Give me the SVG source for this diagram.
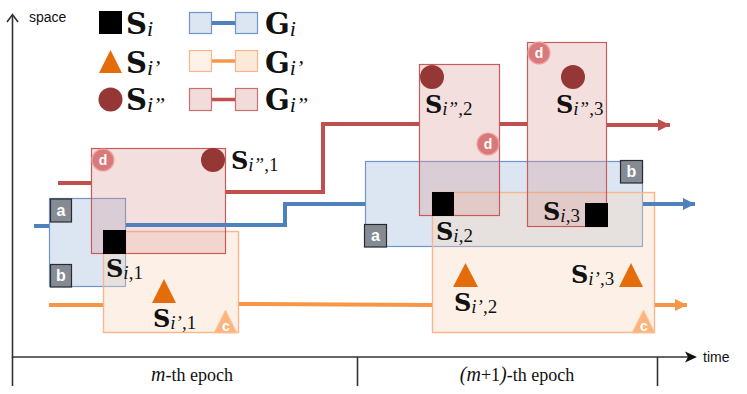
<svg xmlns="http://www.w3.org/2000/svg" width="747" height="394" viewBox="0 0 747 394">
<defs>
<style>
.ax{stroke:#333;stroke-width:1.6;fill:none}
.lab{font-family:"Liberation Sans","Open Sans",sans-serif;font-size:14px;fill:#111}
.ep{font-family:"Liberation Serif",serif;font-size:18px;fill:#111}
.ep .it{font-style:italic;font-size:20px}
.S{font-family:"DejaVu Serif","Liberation Serif",serif;font-weight:bold;font-size:24px;fill:#111}
.SL{font-family:"DejaVu Serif","Liberation Serif",serif;font-weight:bold;font-size:29px;fill:#111}
.sub{font-family:"Liberation Serif",serif;font-weight:normal;font-style:italic;font-size:19px}
.subL{font-family:"Liberation Serif",serif;font-weight:normal;font-style:italic;font-size:22px}
.num{font-weight:normal;font-style:normal}
.bbox{fill:#dce6f2;stroke:#6f96cc;stroke-width:1.2}
.obox{fill:#f9d6b9;fill-opacity:0.35;stroke:#fab68a;stroke-width:1.4}
.rbox{fill:#d99694;fill-opacity:0.3;stroke:#c65d5b;stroke-width:1.2}
.bl{stroke:#4f81bd;stroke-width:4;fill:none}
.ol{stroke:#f79646;stroke-width:4;fill:none}
.rl{stroke:#c0504d;stroke-width:4;fill:none}
.sq{fill:#000}
.tri{fill:#e46c0a}
.cir{fill:#953735}
.gb{fill:#858b94;stroke:#2b2b2b;stroke-width:1.2}
.gbt{font-family:"Liberation Sans","Open Sans",sans-serif;font-weight:bold;font-size:16px;fill:#fff;text-anchor:middle}
.db{fill:#d9797a;stroke:#eaa5a4;stroke-width:1.2}
.cb{fill:#fab47c;stroke:#fcc8a0;stroke-width:1}
.bt{font-family:"Liberation Sans","Open Sans",sans-serif;font-weight:bold;font-size:14px;fill:#fff;text-anchor:middle}
.lb1{fill:#dce6f2;stroke:#6f96cc;stroke-width:1.2}
.lo1{fill:#fdf1e8;stroke:#fab68a;stroke-width:1.2}
.lo2{fill:#fde9d9;stroke:#fab68a;stroke-width:1.2}
.lr1{fill:#f2dcdb;stroke:#c97170;stroke-width:1.2}
</style>
<marker id="ab" markerUnits="userSpaceOnUse" markerWidth="13" markerHeight="13" refX="12" refY="6.5" orient="auto"><path d="M0,0.5 L12,6.5 L0,12.5 z" fill="#4f81bd"/></marker>
<marker id="ao" markerUnits="userSpaceOnUse" markerWidth="13" markerHeight="13" refX="12" refY="6.5" orient="auto"><path d="M0,0.5 L12,6.5 L0,12.5 z" fill="#f79646"/></marker>
<marker id="ar" markerUnits="userSpaceOnUse" markerWidth="13" markerHeight="13" refX="12" refY="6.5" orient="auto"><path d="M0,0.5 L12,6.5 L0,12.5 z" fill="#c0504d"/></marker>
</defs>
<rect width="747" height="394" fill="#fff"/>

<g id="axes">
<line class="ax" x1="12.5" y1="358" x2="12.5" y2="15"/>
<polyline class="ax" points="7,22 12.5,14.5 18,22" stroke-width="2"/>
<line class="ax" x1="12" y1="357" x2="692" y2="357"/>
<path d="M685,351.5 L697,357 L685,362.5 L688,357 z" fill="#111"/>
<line class="ax" x1="12.5" y1="357" x2="12.5" y2="386"/>
<line class="ax" x1="357.5" y1="357" x2="357.5" y2="386"/>
<line class="ax" x1="657.5" y1="357" x2="657.5" y2="386"/>
<text class="lab" x="29" y="22">space</text>
<text class="lab" x="703" y="362">time</text>
<text class="ep" x="192" y="381" text-anchor="middle"><tspan class="it">m</tspan>-th epoch</text>
<text class="ep" x="517" y="381" text-anchor="middle"><tspan class="it">(m</tspan>+1<tspan class="it">)</tspan>-th epoch</text>
</g>

<g id="legend">
<rect class="sq" x="99" y="11" width="23" height="23"/>
<text class="SL" x="126" y="34">S<tspan class="subL" dy="2">i</tspan></text>
<polygon class="tri" points="99,73 110.5,50 122,73"/>
<text class="SL" x="126" y="73">S<tspan class="subL" dy="2">i’</tspan></text>
<circle class="cir" cx="110.5" cy="99.5" r="12"/>
<text class="SL" x="126" y="110">S<tspan class="subL" dy="2">i”</tspan></text>
<line x1="212" y1="23" x2="235" y2="23" stroke="#4f81bd" stroke-width="4"/>
<rect class="lb1" x="189.5" y="12.5" width="22" height="21"/>
<rect class="lb1" x="235.5" y="12.5" width="22" height="21"/>
<text class="SL" x="265" y="34">G<tspan class="subL" dy="2">i</tspan></text>
<line x1="212" y1="61" x2="235" y2="61" stroke="#f79646" stroke-width="3.5"/>
<rect class="lo1" x="189.5" y="50.5" width="22" height="21"/>
<rect class="lo2" x="235.5" y="50.5" width="22" height="21"/>
<text class="SL" x="265" y="73">G<tspan class="subL" dy="2">i’</tspan></text>
<line x1="212" y1="99.5" x2="235" y2="99.5" stroke="#c0504d" stroke-width="3.5"/>
<rect class="lr1" x="189.5" y="88.5" width="22" height="22"/>
<rect class="lr1" x="235.5" y="88.5" width="22" height="22"/>
<text class="SL" x="265" y="110">G<tspan class="subL" dy="2">i”</tspan></text>
</g>

<g id="G_i_1"><rect class="bbox" x="49.5" y="198.5" width="76" height="88"/></g>
<g id="G_i_2"><rect class="bbox" x="365.5" y="161.5" width="277" height="85"/></g>
<g id="G_ip_1"><rect class="obox" x="103.5" y="231.5" width="135" height="101"/></g>
<g id="G_ip_2"><rect class="obox" x="432.5" y="192.5" width="222" height="140"/></g>
<g id="G_ipp_1"><rect class="rbox" x="91.5" y="148.5" width="134" height="105"/></g>
<g id="G_ipp_2"><rect class="rbox" x="419.5" y="64.5" width="80" height="151"/></g>
<g id="G_ipp_3"><rect class="rbox" x="527.5" y="42.5" width="79" height="184"/></g>

<g id="connectors">
<line class="bl" x1="34" y1="226" x2="49" y2="226"/>
<polyline class="bl" points="126,225 285,225 285,204 365,204"/>
<line class="bl" x1="643" y1="204" x2="695" y2="204" marker-end="url(#ab)"/>
<line class="ol" x1="49" y1="305" x2="103" y2="305"/>
<line class="ol" x1="239" y1="304" x2="432" y2="305"/>
<line class="ol" x1="655" y1="305" x2="687" y2="305" marker-end="url(#ao)"/>
<line class="rl" x1="58" y1="183" x2="91" y2="183"/>
<polyline class="rl" points="226,192 323,192 323,124 419,124"/>
<line class="rl" x1="500" y1="124" x2="527" y2="124"/>
<line class="rl" x1="607" y1="125" x2="670" y2="125" marker-end="url(#ar)"/>
</g>

<g id="badge_a1"><rect class="gb" x="50.5" y="199" width="21" height="23"/><text class="gbt" x="61" y="216">a</text></g>
<g id="badge_b1"><rect class="gb" x="50.5" y="264.5" width="21" height="22.5"/><text class="gbt" x="61" y="281">b</text></g>
<g id="badge_a2"><rect class="gb" x="364.5" y="224.5" width="22" height="22.5"/><text class="gbt" x="375.5" y="241">a</text></g>
<g id="badge_b2"><rect class="gb" x="620.5" y="160.5" width="22" height="22.5"/><text class="gbt" x="631.5" y="177">b</text></g>
<g id="badge_c1"><polygon class="cb" points="214,333 225.5,310 237,333"/><text class="bt" x="226" y="331">c</text></g>
<g id="badge_c2"><polygon class="cb" points="632,333 643.5,310 655,333"/><text class="bt" x="644" y="331">c</text></g>
<g id="badge_d1"><circle class="db" cx="103" cy="160" r="11"/><text class="bt" x="103" y="165">d</text></g>
<g id="badge_d2"><circle class="db" cx="488" cy="144" r="11"/><text class="bt" x="488" y="149">d</text></g>
<g id="badge_d3"><circle class="db" cx="539" cy="53" r="11"/><text class="bt" x="539" y="58">d</text></g>

<g id="S_i_1"><rect class="sq" x="103" y="230" width="23" height="24"/><text class="S" x="106" y="277">S<tspan class="sub" dy="2">i</tspan><tspan class="sub num">,1</tspan></text></g>
<g id="S_i_2"><rect class="sq" x="432" y="192" width="22" height="24"/><text class="S" x="436" y="240">S<tspan class="sub" dy="2">i</tspan><tspan class="sub num">,2</tspan></text></g>
<g id="S_i_3"><rect class="sq" x="585" y="203" width="23" height="24"/><text class="S" x="543" y="220">S<tspan class="sub" dy="2">i</tspan><tspan class="sub num">,3</tspan></text></g>
<g id="S_ip_1"><polygon class="tri" points="152,303 164,279 176,303"/><text class="S" x="153" y="327">S<tspan class="sub" dy="2">i’</tspan><tspan class="sub num">,1</tspan></text></g>
<g id="S_ip_2"><polygon class="tri" points="453,287 465.5,263 478,287"/><text class="S" x="454" y="311">S<tspan class="sub" dy="2">i’</tspan><tspan class="sub num">,2</tspan></text></g>
<g id="S_ip_3"><polygon class="tri" points="619,287 631,263 643,287"/><text class="S" x="571" y="283">S<tspan class="sub" dy="2">i’</tspan><tspan class="sub num">,3</tspan></text></g>
<g id="S_ipp_1"><circle class="cir" cx="213" cy="160" r="12"/><text class="S" x="231" y="169">S<tspan class="sub" dy="2">i”</tspan><tspan class="sub num">,1</tspan></text></g>
<g id="S_ipp_2"><circle class="cir" cx="432" cy="77" r="12"/><text class="S" x="425" y="113">S<tspan class="sub" dy="2">i”</tspan><tspan class="sub num">,2</tspan></text></g>
<g id="S_ipp_3"><circle class="cir" cx="573" cy="77" r="12"/><text class="S" x="556" y="113">S<tspan class="sub" dy="2">i”</tspan><tspan class="sub num">,3</tspan></text></g>
</svg>
